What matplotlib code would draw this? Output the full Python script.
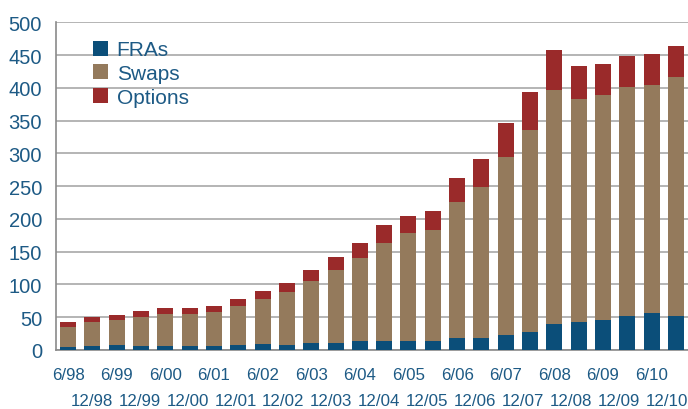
import matplotlib
matplotlib.use("Agg")
import matplotlib.pyplot as plt
import numpy as np

periods = ["6/98", "12/98", "6/99", "12/99", "6/00", "12/00", "6/01", "12/01",
           "6/02", "12/02", "6/03", "12/03", "6/04", "12/04", "6/05", "12/05",
           "6/06", "12/06", "6/07", "12/07", "6/08", "12/08", "6/09", "12/09",
           "6/10", "12/10"]
fras = [5, 6.5, 7, 6.5, 6.5, 6.5, 6.5, 7, 9.5, 8, 11, 11, 13, 13, 14, 14,
        18, 18, 23, 27, 40, 42, 46, 52, 56, 52]
swaps_top = [35, 43, 46, 51, 55, 55, 58, 67, 78, 88.5, 105, 122, 141, 163, 178.5, 183.5,
             226, 248, 295, 336, 397, 383, 389, 401, 404, 417]
totals = [42, 50, 54, 59.5, 64, 64, 67.5, 78, 89.5, 102, 122, 142, 164, 190, 204.5, 212,
          262.5, 291, 347, 393, 458, 433, 437, 449, 452, 463.5]
swaps = [s - f for s, f in zip(swaps_top, fras)]
options = [t - s for t, s in zip(totals, swaps_top)]

c_fra = "#0b4e79"
c_swap = "#947a5c"
c_opt = "#9a2a2a"
txt = "#1d5a85"

plt.rcParams['font.family'] = ['Liberation Sans', 'DejaVu Sans']

fig = plt.figure(figsize=(6.88, 4.10), dpi=100)
ax = fig.add_axes([56/688, (410-351)/410, (688-56)/688, (351-23.3)/410])

x = np.arange(len(periods))
w = 0.66
ax.bar(x, fras, w, color=c_fra, label="FRAs", zorder=3)
ax.bar(x, swaps, w, bottom=fras, color=c_swap, label="Swaps", zorder=3)
ax.bar(x, options, w, bottom=swaps_top, color=c_opt, label="Options", zorder=3)

ax.set_xlim(-0.5, len(periods) - 0.5)
ax.set_ylim(0, 500)
ax.set_yticks(np.arange(0, 501, 50))
ax.yaxis.grid(True, color="#a8a8a8", linewidth=1.2, zorder=0)
ax.set_axisbelow(True)

# first row: June labels under their bars; second row: December labels,
# spaced slightly tighter so the last one stays inside the picture
ax.set_xticks(x[0::2])
ax.set_xticklabels(periods[0::2])
dec_pos = 0.975 + np.arange(len(periods[1::2])) * 1.971
ax.set_xticks(dec_pos, minor=True)
ax.set_xticklabels(periods[1::2], minor=True)
ax.tick_params(axis='x', which='major', length=0, pad=12, labelsize=12.2, labelcolor=txt)
ax.tick_params(axis='x', which='minor', length=0, pad=31, labelsize=12.2, labelcolor=txt)
ax.tick_params(axis='y', length=0, pad=10, labelsize=14.5, labelcolor=txt)

for side in ["top", "right"]:
    ax.spines[side].set_visible(False)
for side in ["left", "bottom"]:
    ax.spines[side].set_color("#8a8a8a")
    ax.spines[side].set_linewidth(1.2)

leg = ax.legend(loc="upper left", bbox_to_anchor=(0.045, 0.97), frameon=False,
                fontsize=15, handlelength=0.75, handleheight=0.75, handletextpad=0.4,
                labelspacing=0.22, borderaxespad=0)
for t in leg.get_texts():
    t.set_color(txt)

fig.savefig("out.png", dpi=100)
